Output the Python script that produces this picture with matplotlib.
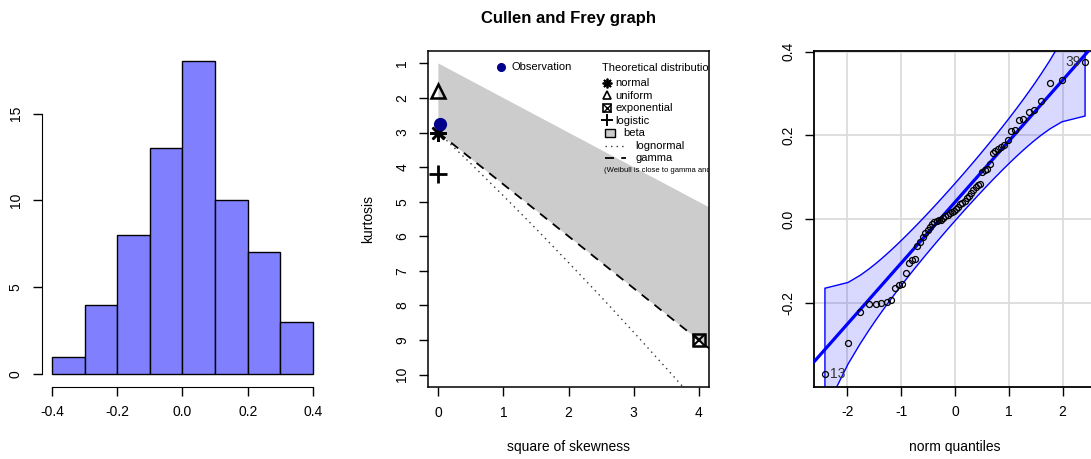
import numpy as np
import matplotlib
matplotlib.use("Agg")
import matplotlib.pyplot as plt
from matplotlib.patches import Polygon, Rectangle
from statistics import NormalDist

plt.rcParams['font.family'] = ['Liberation Sans', 'DejaVu Sans']
plt.rcParams['font.size'] = 10
plt.rcParams['axes.unicode_minus'] = False

# ---------------------------------------------------------------- data
# sorted sample, n = 64
sample = [
    -0.368, -0.294, -0.221, -0.203, -0.201, -0.199, -0.197, -0.193,
    -0.164, -0.157, -0.155, -0.129, -0.103, -0.098, -0.095, -0.063,
    -0.055, -0.042, -0.033, -0.025, -0.018, -0.011, -0.006, -0.003,
    -0.002, -0.001, 0.004, 0.008, 0.011, 0.014, 0.017, 0.021,
    0.025, 0.030, 0.036, 0.040, 0.044, 0.050, 0.055, 0.063,
    0.070, 0.077, 0.081, 0.085, 0.113, 0.117, 0.121, 0.133,
    0.157, 0.164, 0.168, 0.173, 0.178, 0.188, 0.210, 0.213,
    0.236, 0.238, 0.257, 0.261, 0.283, 0.326, 0.331, 0.374,
]
sample_ids = ["13", "39"]          # labels of the lowest and highest observation

hist_edges = [-0.4, -0.3, -0.2, -0.1, 0.0, 0.1, 0.2, 0.3, 0.4]
hist_xticks = [-0.4, -0.2, 0.0, 0.2, 0.4]
hist_yticks = [0, 5, 10, 15]

# Cullen and Frey graph
obs_skew2 = 0.02
obs_kurt = 2.75
normal_pt = (0.0, 3.0)
uniform_pt = (0.0, 1.8)
logistic_pt = (0.0, 4.2)
exponential_pt = (4.0, 9.0)
beta_skew2 = [0.0, 4.2]
beta_kurt_upper = [1.0, 5.2]
beta_kurt_lower = [3.0, 9.3]
gamma_skew2 = [0.0, 4.2]
gamma_kurt = [3.0, 9.3]
lnorm_skew2 = [0.0, 0.5, 1.0, 1.5, 2.0, 2.5, 3.0, 3.5, 4.0]
lnorm_kurt = [3.0, 3.90, 4.83, 5.78, 6.76, 7.75, 8.77, 9.81, 10.86]
cf_xticks = [0, 1, 2, 3, 4]
cf_yticks = list(range(1, 11))

qq_xticks = [-2, -1, 0, 1, 2]
qq_yticks = [-0.2, 0.0, 0.2, 0.4]
qq_ytick_labels = ["-0.2", "0.0", "0.2", "0.4"]
envelope_level = 0.95

# ---------------------------------------------------------------- layout
W, H = 1091, 459
fig = plt.figure(figsize=(W / 100, H / 100), dpi=100)


def box(l, t, r, b):
    return [l / W, 1 - b / H, (r - l) / W, (b - t) / H]


def r_ticks(ax, rotate_y=True):
    ax.tick_params(axis='both', direction='out', length=6.5, width=1.0,
                   pad=7, labelsize=10, colors='black')
    if rotate_y:
        for lab in ax.get_yticklabels():
            lab.set_rotation(90)
            lab.set_verticalalignment('center')


# ---------------------------------------------------------------- histogram
ax1 = fig.add_axes(box(41.6, 49, 323.4, 386.5))
ax1.hist(sample, bins=hist_edges, color='#8080ff', edgecolor='black', linewidth=1.0)
ax1.set_xlim(-0.432, 0.432)
ax1.set_ylim(-0.72, 18.72)
for s in ('top', 'right'):
    ax1.spines[s].set_visible(False)
ax1.spines['left'].set_bounds(hist_yticks[0], hist_yticks[-1])
ax1.spines['bottom'].set_bounds(hist_xticks[0], hist_xticks[-1])
ax1.set_xticks(hist_xticks)
ax1.set_xticklabels([f"{v:.1f}" for v in hist_xticks])
ax1.set_yticks(hist_yticks)
r_ticks(ax1)

# ---------------------------------------------------------------- Cullen and Frey
ax2 = fig.add_axes(box(428, 51, 709, 387))
ax2.set_xlim(-0.16, 4.16)
ax2.set_ylim(10.36, 0.64)

beta_verts = list(zip(beta_skew2, beta_kurt_upper)) + \
    list(zip(beta_skew2[::-1], beta_kurt_lower[::-1]))
ax2.add_patch(Polygon(beta_verts, closed=True, facecolor='#cccccc',
                      edgecolor='none', zorder=1))
ax2.plot(lnorm_skew2, lnorm_kurt, color='#333333', lw=1.0, ls=(0, (1, 3)), zorder=2)
ax2.plot(gamma_skew2, gamma_kurt, color='black', lw=1.3, ls=(0, (5, 4)), zorder=2)

ax2.plot(*normal_pt, marker=(8, 2, 0), ms=12, mew=1.8, color='black', zorder=4)
ax2.plot(*uniform_pt, marker='^', ms=10, mew=1.8, mfc='none', mec='black', zorder=4)
ax2.plot(*logistic_pt, marker='+', ms=13, mew=2.0, color='black', zorder=4)
ax2.plot(*exponential_pt, marker='s', ms=9, mew=1.8, mfc='none', mec='black', zorder=4)
ax2.plot(*exponential_pt, marker='x', ms=9, mew=1.5, color='black', zorder=4)
ax2.plot(obs_skew2, obs_kurt, 'o', color='#00008b', ms=8.5, zorder=5)

ax2.set_xticks(cf_xticks)
ax2.set_yticks(cf_yticks)
for s in ax2.spines.values():
    s.set_linewidth(1.1)
r_ticks(ax2)
ax2.set_xlabel("square of skewness", fontsize=10)
ax2.xaxis.set_label_coords(0.5, -(446.7 - 387) / 336)
ax2.xaxis.label.set_verticalalignment('center')
ax2.set_ylabel("kurtosis", fontsize=10)
ax2.yaxis.set_label_coords(-(428 - 368) / 281, 0.5)
ax2.yaxis.label.set_verticalalignment('center')

fig.text(568.5 / W, 1 - 18 / H, "Cullen and Frey graph", ha='center', va='center',
         fontsize=12, fontweight='bold')


def cf(px, py):
    return ((px - 428) / 281, (387 - py) / 336)


T = ax2.transAxes
ax2.plot(*cf(500.7, 66.7), 'o', color='#00008b', ms=5.5, transform=T, clip_on=True)
ax2.text(*cf(511, 67), "Observation", fontsize=8, va='center', transform=T, clip_on=True)
ax2.text(*cf(602, 67.7), "Theoretical distributions", fontsize=8, va='center',
         transform=T, clip_on=True)

leg_x = 606.7
ax2.plot(*cf(leg_x, 82.7), marker=(8, 2, 0), ms=7, mew=1.3, color='black', transform=T)
ax2.plot(*cf(leg_x, 95.0), marker='^', ms=6, mew=1.2, mfc='none', mec='black', transform=T)
ax2.plot(*cf(leg_x, 107.7), marker='s', ms=5.5, mew=1.2, mfc='none', mec='black', transform=T)
ax2.plot(*cf(leg_x, 107.7), marker='x', ms=5.5, mew=1.0, color='black', transform=T)
ax2.plot(*cf(leg_x, 120.3), marker='+', ms=8, mew=1.4, color='black', transform=T)
bx, by = cf(605, 137)
ax2.add_patch(Rectangle((bx, by), 10 / 281, 8 / 336, transform=T, facecolor='#cccccc',
                        edgecolor='black', lw=1.0))
lx0, ly = cf(605, 146)
lx1, _ = cf(623, 146)
ax2.plot([lx0, lx1], [ly, ly], color='#333333', lw=1.0, ls=(0, (1, 3)), transform=T)
gx0, gy = cf(605, 158.3)
gx1, _ = cf(626, 158.3)
ax2.plot([gx0, gx1], [gy, gy], color='black', lw=1.3, ls=(0, (5, 4)), transform=T)

for label, px, py in [("normal", 615, 83), ("uniform", 615, 96), ("exponential", 615, 108),
                      ("logistic", 615, 121), ("beta", 623.3, 133),
                      ("lognormal", 635, 146), ("gamma", 635, 158)]:
    ax2.text(*cf(px, py), label, fontsize=8, va='center', transform=T, clip_on=True)
ax2.text(*cf(604, 170), "(Weibull is close to gamma and lognormal)", fontsize=5.5,
         va='center', transform=T, clip_on=True)

# ---------------------------------------------------------------- normal QQ plot
ax3 = fig.add_axes(box(814.3, 50.7, 1095.7, 386.7))
ax3.set_xlim(-2.615, 2.615)
ax3.set_ylim(-0.399, 0.402)

nd = NormalDist()
y = np.array(sample)
n = len(y)
P = (np.arange(1, n + 1) - 0.5) / n
z = np.array([nd.inv_cdf(p) for p in P])
q1, q3 = np.quantile(y, [0.25, 0.75])
zq1, zq3 = nd.inv_cdf(0.25), nd.inv_cdf(0.75)
slope = (q3 - q1) / (zq3 - zq1)
intercept = q1 - slope * zq1
fit = intercept + slope * z
dens = np.array([nd.pdf(v) for v in z])
se = slope / dens * np.sqrt(P * (1 - P) / n)
zz = nd.inv_cdf(1 - (1 - envelope_level) / 2)
upper = fit + zz * se
lower = fit - zz * se

ax3.grid(True, color='#dcdcdc', lw=1.3)
ax3.set_axisbelow(True)
env = np.column_stack([np.concatenate([z, z[::-1]]),
                       np.concatenate([upper, lower[::-1]])])
ax3.add_patch(Polygon(env, closed=True, facecolor=(0, 0, 1, 0.15),
                      edgecolor='blue', lw=1.0, zorder=2))
ax3.axline((0, intercept), slope=slope, color='blue', lw=2.3, zorder=3)
ax3.plot(z, y, 'o', mfc='none', mec='black', ms=4.3, mew=0.9, zorder=4)

ax3.annotate(sample_ids[0], (z[0], y[0]), xytext=(4, 0), textcoords='offset points',
             ha='left', va='center', fontsize=10, color='#333333')
ax3.annotate(sample_ids[1], (z[-1], y[-1]), xytext=(-3, 0), textcoords='offset points',
             ha='right', va='center', fontsize=10, color='#333333')

ax3.set_xticks(qq_xticks)
ax3.set_xticklabels([str(v) for v in qq_xticks])
ax3.set_yticks(qq_yticks)
ax3.set_yticklabels(qq_ytick_labels)
for s in ax3.spines.values():
    s.set_linewidth(1.3)
r_ticks(ax3)
ax3.set_xlabel("norm quantiles", fontsize=10)
ax3.xaxis.set_label_coords((955 - 814.3) / 281.4, -(446.7 - 386.7) / 336)
ax3.xaxis.label.set_verticalalignment('center')

fig.savefig("out.png", dpi=100)
